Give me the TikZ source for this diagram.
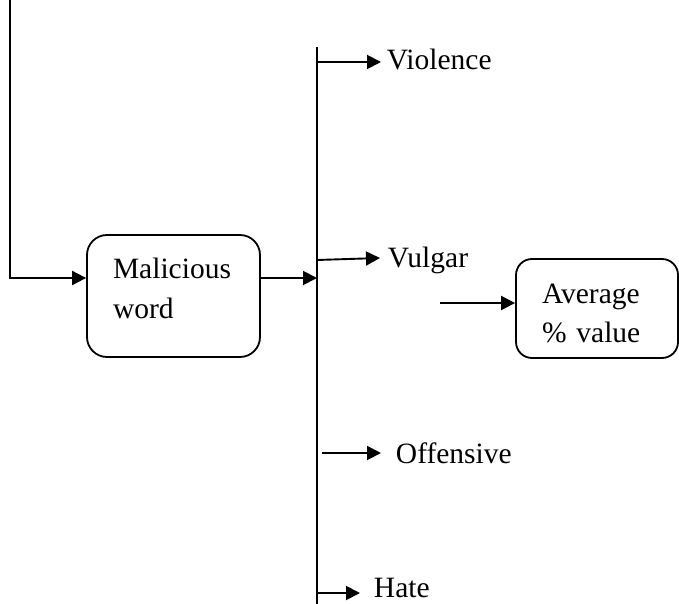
\documentclass[tikz,border=0pt]{standalone}
\usepackage{fontspec}
\setmainfont{Liberation Serif}
\usetikzlibrary{arrows.meta}
\tikzset{
  box/.style={draw, line width=1.8pt, rounded corners=20pt, align=left, inner xsep=26pt, inner ysep=0pt},
  cat/.style={anchor=base west, inner sep=0pt},
  arr/.style={line width=1.9pt, -{Triangle[length=14pt,width=14pt]}},
}
\begin{document}
\begin{tikzpicture}[x=1pt, y=-1pt, font=\fontsize{29.5}{40}\selectfont, line width=1.9pt]
  \useasboundingbox (0,0) rectangle (679,604);

  \node[box, minimum width=173pt, minimum height=122pt, text width=121pt] (mw) at (173.5,296) {Malicious\\word\rule[-16pt]{0pt}{16pt}};
  \node[box, rounded corners=16pt, minimum width=162pt, minimum height=99pt, text width=110pt, font=\fontsize{29.5}{39}\selectfont] (av) at (597,308.5) {\rule{0pt}{29.5pt}Average\\\% value};

  \coordinate (s0) at (10,0);
  \coordinate (bt) at (317,47);
  \coordinate (bb) at (317,604);
  \coordinate (b1) at (317,62);
  \coordinate (b2) at (317,260);
  \coordinate (o1) at (322,453);
  \coordinate (b4) at (317,593);
  \coordinate (a0) at (440,303);

  \node[cat] (c1) at (386,70) {Violence};
  \node[cat] (c2) at (387,267) {Vulgar};
  \node[cat] (c3) at (395,463) {Offensive};
  \node[cat] (c4) at (373,597) {Hate};

  \draw[arr] (s0) |- ([yshift=18pt]mw.west);
  \draw[arr] ([yshift=18pt]mw.east) -- ([yshift=18pt]mw.east -| bt);
  \draw (bt) -- (bb);
  \draw[arr] (b1) -- ([shift={(-5,-8)}]c1.base west);
  \draw[arr] (b2) -- ([shift={(-7,-9)}]c2.base west);
  \draw[arr] (o1) -- ([shift={(-14,-10)}]c3.base west);
  \draw[arr] (b4) -- ([shift={(-13,-4)}]c4.base west);
  \draw[arr] (a0) -- ([yshift=5.5pt]av.west);
\end{tikzpicture}
\end{document}
